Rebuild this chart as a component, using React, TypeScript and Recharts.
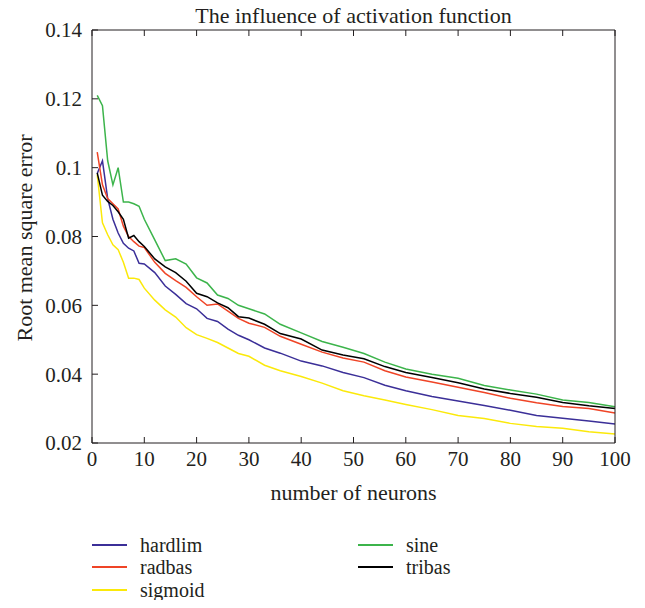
import { CartesianGrid, Line, LineChart, XAxis, YAxis } from "recharts";

const neurons = [
  1, 2, 3, 4, 5, 6, 7, 8, 9, 10, 12, 14, 16, 18, 20, 22, 24, 26, 28, 30, 33, 36, 40, 44, 48, 52, 56,
  60, 65, 70, 75, 80, 85, 90, 95, 100,
];

const hardlim = [
  0.0983, 0.102, 0.091, 0.085, 0.081, 0.078, 0.0766, 0.0758, 0.0722, 0.072, 0.0695, 0.0656, 0.0632,
  0.0605, 0.059, 0.0562, 0.0553, 0.0531, 0.0513, 0.05, 0.0476, 0.0461, 0.0438, 0.0424, 0.0405, 0.039,
  0.0368, 0.0352, 0.0335, 0.0322, 0.0309, 0.0295, 0.028, 0.0272, 0.0264, 0.0255,
];
const radbas = [
  0.1045, 0.095, 0.091, 0.0895, 0.088, 0.083, 0.08, 0.0785, 0.0772, 0.0768, 0.0725, 0.0693, 0.0672,
  0.0652, 0.0625, 0.06, 0.0604, 0.0583, 0.0562, 0.0548, 0.0536, 0.051, 0.0487, 0.0464, 0.0447, 0.0435,
  0.041, 0.0392, 0.0377, 0.0362, 0.0347, 0.033, 0.0317, 0.0306, 0.03, 0.0287,
];
const sigmoid = [
  0.098, 0.084, 0.0805, 0.0776, 0.0762, 0.0725, 0.0679, 0.0679, 0.0675, 0.065, 0.0615, 0.0587, 0.0566,
  0.0535, 0.0515, 0.0504, 0.0492, 0.0476, 0.046, 0.0452, 0.0426, 0.041, 0.0393, 0.0374, 0.0352, 0.0337,
  0.0325, 0.0312, 0.0297, 0.028, 0.0271, 0.0257, 0.0248, 0.0243, 0.0233, 0.0226,
];
const sine = [
  0.121, 0.118, 0.102, 0.095, 0.1, 0.09, 0.09, 0.0895, 0.0888, 0.085, 0.079, 0.073, 0.0735, 0.072,
  0.068, 0.0665, 0.063, 0.062, 0.06, 0.059, 0.0575, 0.0545, 0.052, 0.0495, 0.0478, 0.046, 0.0435,
  0.0415, 0.04, 0.0388, 0.0367, 0.0354, 0.0342, 0.0325, 0.0318, 0.0305,
];
const tribas = [
  0.0985, 0.092, 0.0902, 0.089, 0.0872, 0.085, 0.0795, 0.0803, 0.0785, 0.0771, 0.0735, 0.0712, 0.0695,
  0.067, 0.0635, 0.0625, 0.0607, 0.0593, 0.0567, 0.0563, 0.0545, 0.0518, 0.0502, 0.047, 0.0456, 0.0445,
  0.0422, 0.0405, 0.039, 0.0375, 0.0357, 0.0344, 0.0333, 0.0318, 0.0308, 0.03,
];

const xTicks = [0, 10, 20, 30, 40, 50, 60, 70, 80, 90, 100];
const yTicks = [0.02, 0.04, 0.06, 0.08, 0.1, 0.12, 0.14];

const series = [
  { key: "hardlim", color: "#3b2f98", values: hardlim },
  { key: "radbas", color: "#ef4426", values: radbas },
  { key: "sigmoid", color: "#fbe90a", values: sigmoid },
  { key: "sine", color: "#3cb44b", values: sine },
  { key: "tribas", color: "#000000", values: tribas },
];

const data = neurons.map((n, i) => {
  const row: Record<string, number> = { n };
  series.forEach((s) => {
    row[s.key] = s.values[i];
  });
  return row;
});

const FONT = "'Liberation Serif', 'DejaVu Serif', serif";
const INK = "#231f20";
const tickStyle = { fontSize: 21, fill: INK, fontFamily: FONT };
const fmt = (v: number) => String(Number(v.toFixed(2)));
// top / right axes only carry tick marks, no labels
const noLabel = () => <g />;

function LegendItem({ label, color, x, y }: { label: string; color: string; x: number; y: number }) {
  // y is the top of a 20px row
  return (
    <div
      style={{
        position: "absolute",
        left: x,
        top: y,
        display: "flex",
        alignItems: "center",
        height: 20,
      }}
    >
      <div style={{ width: 35, height: 2, background: color }} />
      <span style={{ marginLeft: 13, fontSize: 20, lineHeight: "20px", color: INK, fontFamily: FONT }}>
        {label}
      </span>
    </div>
  );
}

export default function App() {
  return (
    <div style={{ position: "relative", width: 645, height: 608, margin: -8, background: "#fff", fontFamily: FONT }}>
      <div
        style={{
          position: "absolute",
          left: 92,
          width: 523,
          top: 3,
          textAlign: "center",
          fontSize: 22,
          color: INK,
        }}
      >
        The influence of activation function
      </div>
      <div
        style={{
          position: "absolute",
          left: 25,
          top: 238,
          transform: "translate(-50%, -50%) rotate(-90deg)",
          whiteSpace: "nowrap",
          fontSize: 22,
          color: INK,
        }}
      >
        Root mean square error
      </div>
      <LineChart width={645} height={470} data={data} margin={{ top: 29, right: 29, left: 12, bottom: 0 }}>
        <CartesianGrid stroke="none" />
        <XAxis
          dataKey="n"
          type="number"
          domain={[0, 100]}
          ticks={xTicks}
          interval={0}
          height={27}
          tickSize={-6}
          tickMargin={14}
          tick={tickStyle}
          axisLine={{ stroke: INK }}
          tickLine={{ stroke: INK }}
        />
        <XAxis
          xAxisId="top"
          orientation="top"
          dataKey="n"
          type="number"
          domain={[0, 100]}
          ticks={xTicks}
          interval={0}
          height={1}
          tickSize={-6}
          tick={noLabel}
          axisLine={{ stroke: INK }}
          tickLine={{ stroke: INK }}
        />
        <YAxis
          type="number"
          domain={[0.02, 0.14]}
          ticks={yTicks}
          interval={0}
          width={80}
          tickSize={-6}
          tickMargin={16}
          tickFormatter={fmt}
          tick={tickStyle}
          axisLine={{ stroke: INK }}
          tickLine={{ stroke: INK }}
        />
        <YAxis
          yAxisId="right"
          orientation="right"
          type="number"
          domain={[0.02, 0.14]}
          ticks={yTicks}
          interval={0}
          width={1}
          tickSize={-6}
          tick={noLabel}
          axisLine={{ stroke: INK }}
          tickLine={{ stroke: INK }}
        />
        {series.map((s) => (
          <Line
            key={s.key}
            dataKey={s.key}
            type="linear"
            stroke={s.color}
            strokeWidth={1.5}
            dot={false}
            isAnimationActive={false}
          />
        ))}
      </LineChart>
      <div
        style={{
          position: "absolute",
          left: 92,
          width: 523,
          top: 480,
          textAlign: "center",
          fontSize: 22,
          color: INK,
        }}
      >
        number of neurons
      </div>
      <LegendItem label="hardlim" color={series[0].color} x={92} y={535} />
      <LegendItem label="radbas" color={series[1].color} x={92} y={557} />
      <LegendItem label="sigmoid" color={series[2].color} x={92} y={580} />
      <LegendItem label="sine" color={series[3].color} x={358} y={535} />
      <LegendItem label="tribas" color={series[4].color} x={358} y={557} />
    </div>
  );
}
